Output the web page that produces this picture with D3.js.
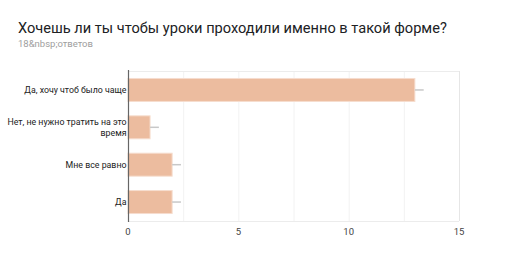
<!DOCTYPE html>
<html><head><meta charset="utf-8">
<script src="https://cdn.jsdelivr.net/npm/d3@7"></script>
<style>body{margin:0;background:#fff;}svg{display:block;font-family:Roboto,Arial,sans-serif;}</style>
</head><body>
<svg id="c" width="511" height="267"></svg>
<script>
const title = "Хочешь ли ты чтобы уроки проходили именно в такой форме?";
const subtitle = "18&nbsp;ответов";
const categories = [["Да, хочу чтоб было чаще"], ["Нет, не нужно тратить на это", "время"], ["Мне все равно"], ["Да"]];
const values = [13, 1, 2, 2];
const whisker = [0.4, 0.4, 0.4, 0.4];
const xTicks = [0, 5, 10, 15];
const gridTicks = [0, 2.5, 5, 7.5, 10, 12.5, 15];

const svg = d3.select("#c");
const m = {l:128, r:52, t:71, b:46};
const x = d3.scaleLinear().domain([0,15]).range([m.l, 459]);
const y = d3.scaleBand().domain(d3.range(values.length)).range([m.t, 221]).paddingInner(0.385).paddingOuter(0.2);

svg.append("text").attr("x",18).attr("y",33).attr("font-size",14.6).attr("fill","#202124").text(title);
svg.append("text").attr("x",18).attr("y",47).attr("font-size",9.5).attr("fill","#9e9e9e").text(subtitle);

// grid
svg.append("g").selectAll("line").data(gridTicks).join("line")
  .attr("x1",d=>x(d)+0.5).attr("x2",d=>x(d)+0.5).attr("y1",71).attr("y2",221)
  .attr("stroke",d=>d===15?"#e6e6e6":"#f2f2f2").attr("stroke-width",1);
svg.append("line").attr("x1",x(0)).attr("x2",x(15)).attr("y1",71.5).attr("y2",71.5).attr("stroke","#ececec");
svg.append("line").attr("x1",x(0)).attr("x2",x(15)).attr("y1",221.5).attr("y2",221.5).attr("stroke","#ececec");

// bars
svg.append("g").selectAll("rect").data(values).join("rect")
  .attr("x",x(0)).attr("y",(d,i)=>y(i)).attr("width",d=>x(d)-x(0)).attr("height",y.bandwidth())
  .attr("fill","#ecbc9f").attr("stroke","#f6ddce").attr("stroke-width",1);

// whiskers
svg.append("g").selectAll("line").data(values).join("line")
  .attr("x1",d=>x(d)).attr("x2",(d,i)=>x(d+whisker[i])).attr("y1",(d,i)=>y(i)+y.bandwidth()/2).attr("y2",(d,i)=>y(i)+y.bandwidth()/2)
  .attr("stroke","#c8c8c8").attr("stroke-width",1.5);

// y axis line
svg.append("line").attr("x1",x(0)+0.5).attr("x2",x(0)+0.5).attr("y1",70).attr("y2",222).attr("stroke","#666").attr("stroke-width",1.2);

// y labels
const lab = svg.append("g").attr("font-size",8.8).attr("fill","#222").attr("text-anchor","end");
categories.forEach((lines,i)=>{
  const cy = y(i)+y.bandwidth()/2;
  const n = lines.length, lh = 11.5;
  lines.forEach((t,j)=>{
    lab.append("text").attr("x",x(0)-1.5).attr("y",cy+(j-(n-1)/2)*lh).attr("dy","0.35em").text(t);
  });
});

// x labels
svg.append("g").attr("font-size",9.5).attr("fill","#444").attr("text-anchor","middle")
  .selectAll("text").data(xTicks).join("text")
  .attr("x",d=>x(d)).attr("y",232).attr("dy","0.35em").text(d=>d);
</script>
</body></html>
